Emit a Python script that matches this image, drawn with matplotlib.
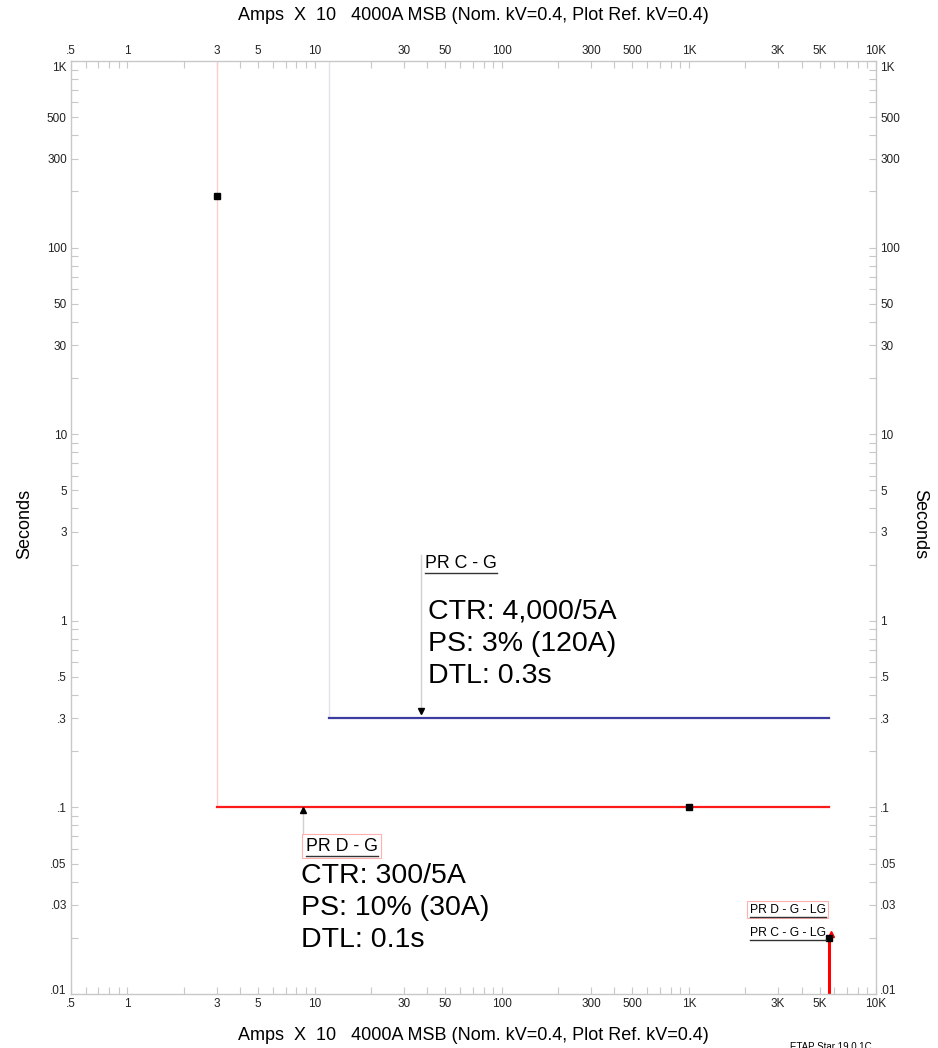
import matplotlib.pyplot as plt
from matplotlib.lines import Line2D
from matplotlib.transforms import ScaledTranslation

plt.rcParams['font.family'] = ['Liberation Sans', 'DejaVu Sans']

# axis ticks (Amps x 10 / Seconds)
x_ticks = [0.5, 1, 3, 5, 10, 30, 50, 100, 300, 500, 1000, 3000, 5000, 10000]
x_labels = ['.5', '1', '3', '5', '10', '30', '50', '100', '300', '500', '1K', '3K', '5K', '10K']
y_ticks = [0.01, 0.03, 0.05, 0.1, 0.3, 0.5, 1, 3, 5, 10, 30, 50, 100, 300, 500, 1000]
y_labels = ['.01', '.03', '.05', '.1', '.3', '.5', '1', '3', '5', '10', '30', '50', '100', '300', '500', '1K']

# relay curves: pickup, definite time, max fault current
pr_d_pickup = 3.0
pr_d_time = 0.1
pr_c_pickup = 12.0
pr_c_time = 0.3
fault_lg = 5600.0
fault_lg_time = 0.021

# marker points
pr_d_sq_x = [3.0, 1000.0]
pr_d_sq_y = [190.0, 0.1]
lg_sq = (5600.0, 0.02)

# labels
pr_c_name = 'PR C - G'
pr_c_info = 'CTR: 4,000/5A\nPS: 3% (120A)\nDTL: 0.3s'
pr_d_name = 'PR D - G'
pr_d_info = 'CTR: 300/5A\nPS: 10% (30A)\nDTL: 0.1s'
lg_names = ['PR D - G - LG', 'PR C - G - LG']
title = 'Amps  X  10   4000A MSB (Nom. kV=0.4, Plot Ref. kV=0.4)'

fig = plt.figure(figsize=(9.38, 10.48), dpi=100)
ax = fig.add_axes([71/938, 1 - 994/1048, (876-71)/938, (994-61)/1048])
ax.set_xscale('log')
ax.set_yscale('log')

grey = '#c8c8c8'
for s in ax.spines.values():
    s.set_color(grey)
    s.set_linewidth(1.0)

ax.set_xticks(x_ticks)
ax.set_xticklabels(x_labels)
ax.set_yticks(y_ticks)
ax.set_yticklabels(y_labels)
ax.set_xticks([m * 10.0**e for e in range(-1, 4) for m in range(1, 10)], minor=True)
ax.set_yticks([m * 10.0**e for e in range(-2, 3) for m in range(1, 10)], minor=True)
ax.set_xlim(0.5, 10000)
ax.set_ylim(0.01, 1000)
ax.tick_params(which='both', direction='in', length=5, width=0.8, color=grey,
               top=True, right=True, labeltop=True, labelright=True,
               labelsize=8.5, pad=3, labelcolor='#222222')

# end labels sit just inside the corners
ytk = ax.yaxis.get_major_ticks()
for tk, dy in ((ytk[0], 5), (ytk[-1], -6)):
    for lab in (tk.label1, tk.label2):
        lab.set_transform(lab.get_transform() + ScaledTranslation(0, dy / 100, fig.dpi_scale_trans))

# PR D - G (red)
ax.plot([pr_d_pickup, pr_d_pickup], [1000, pr_d_time], color='#ffcccc', lw=1)
ax.plot([pr_d_pickup, fault_lg], [pr_d_time, pr_d_time], color='#ff1a1a', lw=1.6)
# PR C - G (blue)
ax.plot([pr_c_pickup, pr_c_pickup], [1000, pr_c_time], color='#e2e2f2', lw=1)
ax.plot([pr_c_pickup, fault_lg], [pr_c_time, pr_c_time], color='#3c3ca0', lw=1.6)

# LG fault current marker
ax.plot([fault_lg, fault_lg], [0.01, lg_sq[1]], color='#ff0000', lw=2.2)
ax.plot(fault_lg * 1.03, fault_lg_time, marker='^', color='#ff0000', ms=5)
ax.plot(*lg_sq, marker='s', color='black', ms=4.5)

ax.plot(pr_d_sq_x, pr_d_sq_y, 's', color='black', ms=4.5)

# leaders to labels
ax.plot([37, 37], [2.25, 0.33], color='#d0d0d0', lw=1)
ax.plot(37, 0.33, marker='v', color='black', ms=4)
ax.plot([8.7, 8.7], [0.072, 0.097], color='#d0d0d0', lw=1)
ax.plot(8.7, 0.097, marker='^', color='black', ms=4)

box = dict(boxstyle='square,pad=0.2', fc='none', ec='#ffb0b0', lw=0.8)
names = [
    ax.text(39, 2.03, pr_c_name, fontsize=12.8, va='center', ha='left'),
    ax.text(9.0, 0.062, pr_d_name, fontsize=12.8, va='center', ha='left', bbox=box),
    ax.text(2120, 0.0283, lg_names[0], fontsize=8.7, va='center', ha='left', bbox=box),
    ax.text(2120, 0.0211, lg_names[1], fontsize=8.7, va='center', ha='left'),
]
ax.text(40.5, 0.753, pr_c_info, fontsize=20.5, va='center', ha='left', linespacing=1.32)
ax.text(8.5, 0.0289, pr_d_info, fontsize=20.5, va='center', ha='left', linespacing=1.32)

fig.text(473/938, 1 - 15/1048, title, fontsize=13, ha='center', va='center')
fig.text(473/938, 1 - 1035/1048, title, fontsize=13, ha='center', va='center')
fig.text(25/938, 0.5, 'Seconds', fontsize=13, rotation=90, ha='center', va='center')
fig.text(920/938, 0.5, 'Seconds', fontsize=13, rotation=270, ha='center', va='center')
fig.text(790/938, 1 - 1042/1048, 'ETAP Star 19.0.1C', fontsize=7, ha='left', va='top')

# underline the device names
fig.canvas.draw()
r = fig.canvas.get_renderer()
for t in names:
    bb = t.get_window_extent(r)
    y = (bb.y0 - 1) / fig.bbox.height
    fig.add_artist(Line2D([bb.x0 / fig.bbox.width, bb.x1 / fig.bbox.width], [y, y],
                          color='#333333', lw=1.0))

fig.savefig('out.png', dpi=100)
